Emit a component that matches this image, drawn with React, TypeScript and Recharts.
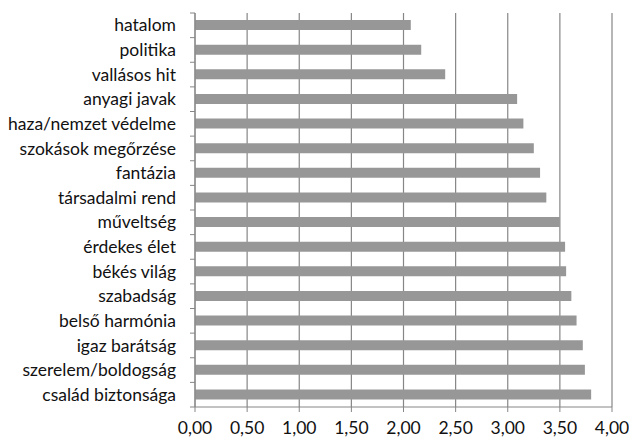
import React from "react";
import { BarChart, Bar, XAxis, YAxis, CartesianGrid } from "recharts";

const categories = [
  "hatalom",
  "politika",
  "vallásos hit",
  "anyagi javak",
  "haza/nemzet védelme",
  "szokások megőrzése",
  "fantázia",
  "társadalmi rend",
  "műveltség",
  "érdekes élet",
  "békés világ",
  "szabadság",
  "belső harmónia",
  "igaz barátság",
  "szerelem/boldogság",
  "család biztonsága",
];

const values = [
  2.07, 2.17, 2.4, 3.09, 3.15, 3.25, 3.31, 3.37, 3.5, 3.55, 3.56, 3.61, 3.66, 3.72, 3.74, 3.8,
];

const xTicks = [0, 0.5, 1, 1.5, 2, 2.5, 3, 3.5, 4];

const data = categories.map((name, i) => ({ name, value: values[i] }));

const FONT = "Lato, 'Open Sans', sans-serif";
const AXIS = "#868686";

function CategoryTick(props: any) {
  const { x, y, payload, index, visibleTicksCount } = props;
  const half = payload.offset ?? 12.3;
  const axisX = x + 19;
  return (
    <g>
      <line x1={axisX - 5} x2={axisX} y1={y - half} y2={y - half} stroke={AXIS} />
      {index === visibleTicksCount - 1 && (
        <line x1={axisX - 5} x2={axisX} y1={y + half} y2={y + half} stroke={AXIS} />
      )}
      <text x={x} y={y} dy="0.35em" textAnchor="end" fill="#111" fontSize={17.5} fontFamily={FONT}>
        {payload.value}
      </text>
    </g>
  );
}

export default function App() {
  return (
    <div style={{ position: "absolute", left: 0, top: 0, width: 629, height: 443, background: "#fff" }}>
      <BarChart
        width={629}
        height={443}
        data={data}
        layout="vertical"
        margin={{ top: 13, right: 17, bottom: 6, left: 0 }}
      >
        <CartesianGrid horizontal={false} stroke={AXIS} strokeWidth={1.2} />
        <XAxis
          type="number"
          domain={[0, 4]}
          ticks={xTicks}
          interval={0}
          height={30}
          stroke={AXIS}
          tickSize={5}
          tickMargin={10}
          tickFormatter={(v: number) => v.toFixed(2).replace(".", ",")}
          tick={{ fill: "#111", fontSize: 17.5, fontFamily: FONT }}
        />
        <YAxis
          type="category"
          dataKey="name"
          width={195}
          stroke={AXIS}
          tickLine={false}
          tickSize={5}
          tickMargin={14}
          interval={0}
          tick={<CategoryTick />}
        />
        <Bar dataKey="value" fill="#979797" barSize={10} isAnimationActive={false} />
      </BarChart>
    </div>
  );
}
